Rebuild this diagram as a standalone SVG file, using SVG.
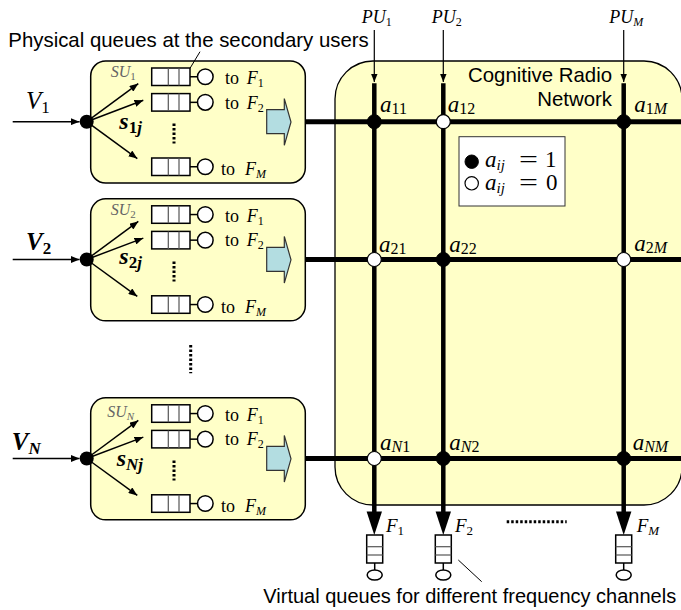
<svg xmlns="http://www.w3.org/2000/svg" width="681" height="610" viewBox="0 0 681 610">
<style>
.sans{font-family:"Liberation Sans",Arial,Helvetica,sans-serif;font-size:20.4px;fill:#000}
.mi{font-family:"Liberation Serif","Times New Roman",serif;font-style:italic;fill:#000}
.up{font-style:normal}
.box{fill:#FFFFC8;stroke:#000;stroke-width:1.5}
.thin{stroke:#000;stroke-width:1.5;fill:none}
.q{fill:#fff;stroke:#000;stroke-width:1.5}
.qd{stroke:#555;stroke-width:1.2}
.srv{fill:#fff;stroke:#000;stroke-width:1.5}
.thick{stroke:#000;stroke-width:5;fill:none}
.vthick{stroke:#000;stroke-width:4.5;fill:none}
.on{fill:#000;stroke:#000;stroke-width:1}
.off{fill:#fff;stroke:#000;stroke-width:1.2}
.dots{stroke:#000;stroke-width:3;stroke-dasharray:2.5 2;fill:none}
.blk{fill:#B3DDE1;stroke:#333;stroke-width:1.2}
.su{font-family:"Liberation Serif","Times New Roman",serif;font-style:italic;fill:#666;font-size:16px}
.to{font-family:"Liberation Serif","Times New Roman",serif;font-size:18px;fill:#000}
.rm{font-family:"Liberation Serif","Times New Roman",serif;fill:#000}
</style>
<defs>
<marker id="ah" viewBox="0 0 10 8" refX="10" refY="4" markerWidth="9" markerHeight="7" markerUnits="userSpaceOnUse" orient="auto"><path d="M0,0 L10,4 L0,8 z" fill="#000"/></marker>
<marker id="ahs" viewBox="0 0 10 8" refX="10" refY="4" markerWidth="8" markerHeight="6.5" markerUnits="userSpaceOnUse" orient="auto"><path d="M0,0 L10,4 L0,8 z" fill="#000"/></marker>
<g id="suq">
<rect class="box" x="90.7" y="0" width="214.6" height="122" rx="15"/>
<circle cx="86.7" cy="60.7" r="7" fill="#000"/>
<line class="thin" x1="12.7" y1="60.7" x2="79.5" y2="60.7" marker-end="url(#ah)"/>
<line class="thin" x1="86.7" y1="60.7" x2="138.3" y2="22.6" marker-end="url(#ah)"/>
<line class="thin" x1="86.7" y1="60.7" x2="143.3" y2="39.3" marker-end="url(#ah)"/>
<line class="thin" x1="86.7" y1="60.7" x2="137.3" y2="97.6" marker-end="url(#ah)"/>
<rect class="q" x="151.7" y="7" width="38.3" height="17.5"/>
<line class="qd" x1="168.3" y1="7" x2="168.3" y2="24.5"/><line class="qd" x1="179" y1="7" x2="179" y2="24.5"/>
<line class="thin" x1="190" y1="15.75" x2="197.5" y2="15.75"/><circle class="srv" cx="205.3" cy="15.75" r="7.8"/>
<rect class="q" x="151.7" y="32.6" width="38.3" height="17.5"/>
<line class="qd" x1="168.3" y1="32.6" x2="168.3" y2="50.1"/><line class="qd" x1="179" y1="32.6" x2="179" y2="50.1"/>
<line class="thin" x1="190" y1="41.35" x2="197.5" y2="41.35"/><circle class="srv" cx="205.3" cy="41.35" r="7.8"/>
<rect class="q" x="151.7" y="97" width="38.3" height="17.5"/>
<line class="qd" x1="168.3" y1="97" x2="168.3" y2="114.5"/><line class="qd" x1="179" y1="97" x2="179" y2="114.5"/>
<line class="thin" x1="190" y1="105.75" x2="197.5" y2="105.75"/><circle class="srv" cx="205.3" cy="105.75" r="7.8"/>
<line class="dots" x1="174" y1="62.6" x2="174" y2="82.6"/>
<path class="blk" d="M266.7,48.6 H284.3 V37.6 L291,61 L284.3,84.3 V72.6 H266.7 Z"/>
<text class="to" x="225" y="23.3">to <tspan class="mi" x="246.7">F</tspan><tspan font-size="12" dy="3">1</tspan></text>
<text class="to" x="225" y="47.6">to <tspan class="mi" x="246.7">F</tspan><tspan font-size="12" dy="3">2</tspan></text>
<text class="to" x="221" y="114.3">to <tspan class="mi" x="245">F</tspan><tspan class="mi" font-size="12" dy="3">M</tspan></text>
</g>
</defs>

<g id="network">
<rect x="335" y="61" width="347" height="444" rx="38" fill="#FFFFC8" stroke="#000" stroke-width="1.3"/>
<text class="sans" x="612" y="81.7" text-anchor="end">Cognitive Radio</text>
<text class="sans" x="612" y="106" text-anchor="end">Network</text>
</g>

<g id="su1" transform="translate(0,61)">
<use href="#suq"/>
<text class="su" x="110.7" y="15.7">SU<tspan class="up" font-size="11" dy="3">1</tspan></text>
<text class="mi" x="26" y="47.5" font-size="25">V<tspan class="up" font-size="17" dy="4">1</tspan></text>
<text class="mi" x="119.3" y="67.5" font-size="24" font-weight="bold">s<tspan class="up" font-size="17" dy="4">1</tspan><tspan font-size="17">j</tspan></text>
</g>
<g id="su2" transform="translate(0,198.8)">
<use href="#suq"/>
<text class="su" x="110.7" y="16.2">SU<tspan class="up" font-size="11" dy="3">2</tspan></text>
<text class="mi" x="26" y="51.2" font-size="25" font-weight="bold">V<tspan class="up" font-size="17" dy="4">2</tspan></text>
<text class="mi" x="119.3" y="65.5" font-size="24" font-weight="bold">s<tspan class="up" font-size="17" dy="4">2</tspan><tspan font-size="17">j</tspan></text>
</g>
<g id="suN" transform="translate(0,397.8)">
<use href="#suq"/>
<text class="su" x="107.3" y="18.9">SU<tspan font-size="11" dy="3">N</tspan></text>
<text class="mi" x="11.7" y="52.2" font-size="25" font-weight="bold">V<tspan font-size="17" dy="4">N</tspan></text>
<text class="mi" x="116.7" y="68.2" font-size="24" font-weight="bold">s<tspan font-size="17" dy="4">Nj</tspan></text>
</g>

<g id="vdots">
<line class="dots" x1="190.7" y1="345" x2="190.7" y2="373.3"/>
</g>

<g id="title">
<text class="sans" x="8.3" y="46.7">Physical queues at the secondary users</text>
<line x1="200" y1="51.7" x2="190" y2="68.3" stroke="#000" stroke-width="1"/>
</g>

<g id="connectors">
<line class="thick" x1="305.3" y1="121.7" x2="681" y2="121.7"/>
<line class="thick" x1="305.3" y1="259.5" x2="681" y2="259.5"/>
<line class="thick" x1="305.3" y1="458.5" x2="681" y2="458.5"/>
<line class="vthick" x1="374.3" y1="83.3" x2="374.3" y2="512"/>
<line class="vthick" x1="443.3" y1="83.3" x2="443.3" y2="512"/>
<line class="vthick" x1="623.7" y1="83.3" x2="623.7" y2="512"/>
<polygon points="366.6,511.5 382,511.5 374.3,535" fill="#000"/>
<polygon points="435.6,511.5 451,511.5 443.3,535" fill="#000"/>
<polygon points="616,511.5 631.4,511.5 623.7,535" fill="#000"/>
<line x1="374.3" y1="30" x2="374.3" y2="82" stroke="#000" stroke-width="1.2" marker-end="url(#ahs)"/>
<line x1="443.3" y1="30" x2="443.3" y2="82" stroke="#000" stroke-width="1.2" marker-end="url(#ahs)"/>
<line x1="623.7" y1="30" x2="623.7" y2="82" stroke="#000" stroke-width="1.2" marker-end="url(#ahs)"/>
</g>

<g id="pu-labels">
<text class="mi" x="361.7" y="23.3" font-size="18">PU<tspan class="up" font-size="12" dy="3">1</tspan></text>
<text class="mi" x="431.7" y="23.3" font-size="18">PU<tspan class="up" font-size="12" dy="3">2</tspan></text>
<text class="mi" x="609.3" y="23.3" font-size="18">PU<tspan font-size="12" dy="3">M</tspan></text>
</g>

<g id="crosspoints">
<circle class="on" cx="374.3" cy="121.7" r="7"/>
<circle class="off" cx="443.3" cy="121.7" r="7"/>
<circle class="on" cx="623.7" cy="121.7" r="7"/>
<circle class="off" cx="374.3" cy="259.5" r="7"/>
<circle class="on" cx="443.3" cy="259.5" r="7"/>
<circle class="off" cx="623.7" cy="259.5" r="7"/>
<circle class="off" cx="374.3" cy="458.5" r="7"/>
<circle class="on" cx="443.3" cy="458.5" r="7"/>
<circle class="on" cx="623.7" cy="458.5" r="7"/>
</g>

<g id="a-labels" font-size="23">
<text class="mi" x="380" y="111.7">a<tspan class="up" font-size="16" dy="2">11</tspan></text>
<text class="mi" x="447.7" y="111.7">a<tspan class="up" font-size="16" dy="2">12</tspan></text>
<text class="mi" x="634.3" y="111.7">a<tspan class="up" font-size="16" dy="2">1</tspan><tspan font-size="16">M</tspan></text>
<text class="mi" x="379" y="251.5">a<tspan class="up" font-size="16" dy="2">21</tspan></text>
<text class="mi" x="449.3" y="251.5">a<tspan class="up" font-size="16" dy="2">22</tspan></text>
<text class="mi" x="634.3" y="251">a<tspan class="up" font-size="16" dy="2">2</tspan><tspan font-size="16">M</tspan></text>
<text class="mi" x="380" y="450">a<tspan font-size="16" dy="2">N</tspan><tspan class="up" font-size="16">1</tspan></text>
<text class="mi" x="449.3" y="450">a<tspan font-size="16" dy="2">N</tspan><tspan class="up" font-size="16">2</tspan></text>
<text class="mi" x="632.7" y="450">a<tspan font-size="16" dy="2">NM</tspan></text>
</g>

<g id="legend">
<rect x="459" y="136.7" width="106" height="69.3" fill="#fff" stroke="#333" stroke-width="1"/>
<circle class="on" cx="471.7" cy="161.7" r="6.7"/>
<circle class="off" cx="471.7" cy="183.3" r="6.7"/>
<text class="mi" x="485" y="166.7" font-size="23">a<tspan font-size="15" dy="3">ij</tspan></text>
<text class="mi" x="485" y="190" font-size="23">a<tspan font-size="15" dy="3">ij</tspan></text>
<text class="rm" x="519" y="166.5" font-size="23"><tspan textLength="19" lengthAdjust="spacingAndGlyphs">=</tspan><tspan x="545">1</tspan></text>
<text class="rm" x="519" y="190" font-size="23"><tspan textLength="19" lengthAdjust="spacingAndGlyphs">=</tspan><tspan x="546">0</tspan></text>
</g>

<g id="virtual-queues">
<rect class="q" x="366.7" y="535" width="16" height="28"/>
<line class="qd" x1="366.7" y1="546.7" x2="382.7" y2="546.7"/><line class="qd" x1="366.7" y1="555" x2="382.7" y2="555"/>
<line class="thin" x1="374.7" y1="563" x2="374.7" y2="570"/><ellipse class="srv" cx="374.7" cy="575" rx="7.5" ry="5"/>
<rect class="q" x="435.3" y="535" width="16" height="28"/>
<line class="qd" x1="435.3" y1="546.7" x2="451.3" y2="546.7"/><line class="qd" x1="435.3" y1="555" x2="451.3" y2="555"/>
<line class="thin" x1="443.3" y1="563" x2="443.3" y2="570"/><ellipse class="srv" cx="443.3" cy="575" rx="7.5" ry="5"/>
<rect class="q" x="615.7" y="535" width="16" height="28"/>
<line class="qd" x1="615.7" y1="546.7" x2="631.7" y2="546.7"/><line class="qd" x1="615.7" y1="555" x2="631.7" y2="555"/>
<line class="thin" x1="623.7" y1="563" x2="623.7" y2="570"/><ellipse class="srv" cx="623.7" cy="575" rx="7.5" ry="5"/>
<text class="mi" x="386" y="531.7" font-size="19">F<tspan class="up" font-size="13" dy="3">1</tspan></text>
<text class="mi" x="455" y="531.7" font-size="19">F<tspan class="up" font-size="13" dy="3">2</tspan></text>
<text class="mi" x="636.7" y="531.7" font-size="19">F<tspan font-size="13" dy="3">M</tspan></text>
<line class="dots" x1="506.7" y1="521.7" x2="566.7" y2="521.7"/>
<line x1="458.3" y1="560" x2="481.7" y2="581.7" stroke="#000" stroke-width="1"/>
<text class="sans" x="263.3" y="602.5" style="font-size:20px">Virtual queues for different frequency channels</text>
</g>
</svg>
